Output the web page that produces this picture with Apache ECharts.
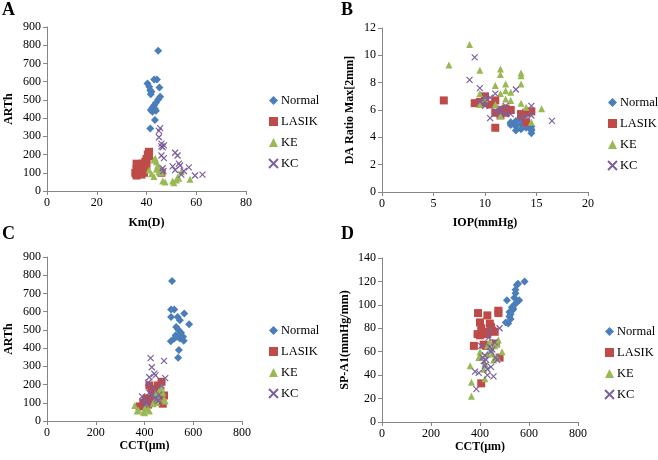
<!DOCTYPE html>
<html><head><meta charset="utf-8">
<script src="https://cdn.jsdelivr.net/npm/echarts@6/dist/echarts.min.js"></script>
<style>html,body{margin:0;padding:0;background:#fff}#c{width:658px;height:460px}</style>
</head><body><div id="c"></div>
<script>
// Panel A: Km(D) vs ARTh
const A_Normal = [[44.7,769],[43.1,612],[44.2,612],[40.4,590],[41.1,572],[45.2,568],[41.5,553],[42,544],[41.7,531],[45.5,517],[44.7,502],[43.8,484],[43.1,471],[42.4,458],[43.3,453],[41.7,444],[42.4,435],[43.8,440],[43.4,389],[41.5,343]];
const A_LASIK = [[35.5,100],[36,85],[36.5,110],[37,95],[36,150],[37,140],[38,130],[38.5,150],[39,120],[39.5,160],[40,175],[40.5,200],[41,215],[41,190],[37.5,110],[38,90],[39,100],[40,140],[36,120],[35.8,95],[46,100]];
const A_KE = [[41,115],[42,95],[43,80],[43.5,180],[44,160],[44.5,140],[44,120],[45,105],[46.5,55],[47.5,50],[50.5,55],[51,45],[52,60],[53,70],[54,105],[57.5,65],[46,100],[43,170],[45,130],[52.5,75]];
const A_KC = [[45.5,345],[45,330],[45,295],[46,260],[46,245],[46.5,240],[47,250],[46,195],[47,180],[46.5,125],[51.5,210],[52.5,195],[50.5,135],[51.5,115],[53,150],[53.5,140],[54,90],[57,130],[59.5,85],[62.5,90],[55,110],[46.8,110]];
// Panel B: IOP(mmHg) vs DA Ratio Max[2mm]
const B_Normal = [[12.5,5.0],[12.5,4.9],[13,5.2],[13,4.8],[13,4.5],[13.5,5.3],[13.5,4.6],[14,5.0],[14,4.7],[14,4.8],[14.5,4.8],[14.5,4.5],[14.5,4.3],[14.5,4.6],[13.5,5.0],[13,4.9],[12.5,5.1],[14,4.9]];
const B_LASIK = [[6,6.7],[9,6.5],[9.5,6.6],[10,7.0],[10,6.8],[10.5,6.4],[11,6.7],[11,5.8],[11,4.7],[11.5,6.0],[11.5,5.6],[12,6.1],[12,5.8],[12.5,6.0],[13.5,5.7],[14,5.8],[14,5.1],[14.5,5.9],[13.5,5.6],[10,6.5]];
const B_KE = [[11,7.8],[11,6.4],[11.5,9.0],[11.5,8.6],[11.5,7.2],[12,7.9],[12,7.4],[12,6.8],[12.5,7.3],[12.5,6.7],[13.5,8.7],[13.5,8.5],[13.5,7.9],[13.5,6.5],[14,6.2],[15.5,6.1],[14.5,5.1],[11.5,5.6],[9.5,8.9],[9.5,7.2],[9.5,6.4],[6.5,9.3],[8.5,10.8],[10,6.8]];
const B_KC = [[9,9.85],[8.5,8.2],[9.5,7.6],[9.5,6.6],[10,6.3],[10,6.9],[10.5,6.9],[11,7.2],[11,5.9],[10.5,5.4],[11.5,5.8],[12,6.3],[12,5.7],[12.5,5.7],[13,7.5],[13.5,5.5],[14,5.5],[14.5,6.3],[14.5,5.6],[16.5,5.2],[10,6.6],[11.5,6.1]];
// Panel C: CCT(μm) vs ARTh
const C_Normal = [[513,768],[509,612],[522,612],[563,590],[509,571],[536,571],[545,553],[583,531],[530,516],[538,502],[550,484],[558,462],[508,438],[522,453],[533,462],[545,453],[561,440],[541,389],[538,347],[528,470]];
const C_LASIK = [[380,80],[395,100],[405,110],[410,125],[420,195],[425,105],[430,110],[440,140],[445,150],[455,195],[460,130],[465,140],[470,215],[475,95],[480,140],[435,120],[415,90],[450,160],[400,85],[430,175]];
const C_KE = [[360,85],[370,55],[375,60],[395,50],[400,45],[405,80],[415,65],[420,55],[440,110],[445,150],[455,130],[460,165],[470,185],[475,155],[480,120],[485,110],[450,100],[435,95],[465,175],[410,70]];
const C_KC = [[390,135],[400,90],[410,100],[415,210],[420,240],[425,345],[430,295],[440,260],[445,250],[445,130],[450,120],[455,110],[460,145],[470,195],[480,330],[485,235],[430,140],[420,155],[435,180],[400,115]];
// Panel D: CCT(μm) vs SP-A1(mmHg/mm)
const D_Normal = [[510,104],[505,85],[515,84],[520,90],[525,92],[530,95],[535,97],[540,100],[545,110],[545,113],[550,117],[555,118],[560,104],[582,120],[540,106],[530,98],[525,88],[520,94],[550,102],[535,96]];
const D_LASIK = [[392,93],[430,91],[475,95],[475,93],[400,85],[440,84],[445,81],[405,80],[410,76],[420,77],[430,75],[450,78],[460,77],[400,74],[415,66],[425,65],[375,65],[465,67],[480,55],[405,33],[390,75]];
const D_KE = [[360,48],[365,34],[365,22],[395,55],[400,60],[400,57],[415,45],[420,37],[430,58],[440,69],[445,62],[450,58],[455,53],[460,65],[470,67],[475,70],[490,60],[470,55],[430,65],[420,50]];
const D_KC = [[380,43],[385,28],[395,42],[405,65],[410,55],[415,52],[420,48],[420,57],[425,53],[430,45],[430,40],[435,72],[440,64],[445,60],[445,47],[450,62],[455,39],[460,68],[465,55],[470,53],[480,80],[440,78]];

const groups = ['Normal','LASIK','KE','KC'];
const panelLetters = ['A','B','C','D'];
const xNames = ['Km(D)','IOP(mmHg)','CCT(μm)','CCT(μm)'];
const yNames = ['ARTh','DA Ratio Max[2mm]','ARTh','SP-A1(mmHg/mm)'];
const xRanges = [[0,80,20],[0,20,5],[0,800,200],[0,800,200]];
const yRanges = [[0,900,100],[0,12,2],[0,900,100],[0,140,20]];
const panelData = [
  [A_Normal,A_LASIK,A_KE,A_KC],
  [B_Normal,B_LASIK,B_KE,B_KC],
  [C_Normal,C_LASIK,C_KE,C_KC],
  [D_Normal,D_LASIK,D_KE,D_KC]
];

const FONT = 'Liberation Serif';
const styles = {
  Normal:{symbol:'diamond', size:8, color:'#4A7EBB'},
  LASIK:{symbol:'rect', size:8, color:'#BE4B48'},
  KE:{symbol:'triangle', size:7, color:'#98B954'},
  KC:{symbol:'path://M0,0L10,10M0,10L10,0', size:6, color:'#7D60A0'}
};

const grids = [
  {left:47, top:27, width:199, height:164},
  {left:382, top:28, width:206, height:164},
  {left:47, top:257, width:195, height:164},
  {left:382, top:258, width:196, height:164}
];
const legendPos = [
  {left:263, top:89},{left:602, top:91},{left:263, top:319},{left:599, top:320}
];
const letterPos = [{left:2,top:1},{left:341,top:1},{left:2,top:225},{left:341,top:225}];
const yNameGap = [32,26,32,31];
const xNameGap = [26,25,18,19];

const axisCommon = {
  axisLine:{show:true, lineStyle:{color:'#868686', width:1}},
  axisTick:{show:true, length:4, inside:false, lineStyle:{color:'#868686'}},
  splitLine:{show:false},
  axisLabel:{color:'#000', fontFamily:FONT, fontSize:12, margin:6},
  nameLocation:'middle',
  nameTextStyle:{color:'#000', fontFamily:FONT, fontSize:12, fontWeight:'bold'}
};

const xAxis = xRanges.map((r,i)=>Object.assign({}, axisCommon, {
  type:'value', gridIndex:i, min:r[0], max:r[1], interval:r[2], name:xNames[i], nameGap:xNameGap[i]
}));
const yAxis = yRanges.map((r,i)=>Object.assign({}, axisCommon, {
  type:'value', gridIndex:i, min:r[0], max:r[1], interval:r[2], name:yNames[i], nameGap:yNameGap[i]
}));

const series = [];
panelData.forEach((sets,p)=>{
  sets.forEach((d,g)=>{
    const s = styles[groups[g]];
    const isX = groups[g]==='KC';
    series.push({
      type:'scatter', name:groups[g], xAxisIndex:p, yAxisIndex:p,
      symbol:s.symbol, symbolSize:s.size, data:d,
      itemStyle: isX ? {color:'rgba(0,0,0,0)', borderColor:s.color, borderWidth:1.2, opacity:1}
                     : {color:s.color, opacity:1},
      emphasis:{disabled:true}, animation:false
    });
  });
});

const legend = legendPos.map(pos=>({
  left:pos.left, top:pos.top, orient:'vertical', itemWidth:9, itemHeight:9, itemGap:8,
  data:groups.map(n=>({name:n, icon:styles[n].symbol})),
  textStyle:{color:'#000', fontFamily:FONT, fontSize:12.5, padding:[0,0,0,-2]},
  selectedMode:false
}));

const title = panelLetters.map((t,i)=>({
  text:t, left:letterPos[i].left, top:letterPos[i].top, padding:0,
  textStyle:{color:'#000', fontFamily:FONT, fontSize:18, fontWeight:'bold'}
}));

const chart = echarts.init(document.getElementById('c'), null, {renderer:'canvas'});
chart.setOption({
  backgroundColor:'#fff', animation:false,
  textStyle:{fontFamily:FONT, color:'#000'},
  title, legend, grid:grids, xAxis, yAxis, series
});
</script></body></html>
